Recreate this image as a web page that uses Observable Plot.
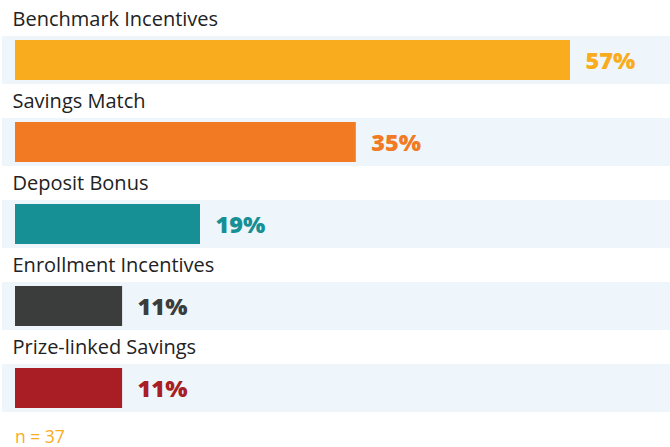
<!DOCTYPE html>
<html>
<head>
<meta charset="utf-8">
<script src="https://cdn.jsdelivr.net/npm/d3@7"></script>
<script src="https://cdn.jsdelivr.net/npm/@observablehq/plot@0.6"></script>
<style>
  html, body { margin: 0; padding: 0; background: #fff; }
  #chart { width: 670px; }
  #caption { font-family: "Open Sans", sans-serif; font-size: 17.5px; color: #f8ac1e; margin: 4px 0 0 15px; line-height: 20px; }
</style>
</head>
<body>
<div id="chart"></div>
<div id="caption">n = 37</div>
<script>
const categories = ["Benchmark Incentives", "Savings Match", "Deposit Bonus", "Enrollment Incentives", "Prize-linked Savings"];
const values = [57, 35, 19, 11, 11];
const colors = ["#f8ac1e", "#f17a22", "#168f95", "#3b3d3d", "#a81e24"];
const sampleSize = 37;

const data = categories.map((c, i) => ({category: c, value: values[i], color: colors[i], label: values[i] + "%"}));
const xMax = 57 * 655 / 555;

const chart = Plot.plot({
  width: 670,
  height: 422,
  marginLeft: 15,
  marginRight: 0,
  marginTop: 36,
  marginBottom: 10,
  x: {domain: [0, xMax], axis: null},
  y: {domain: categories, axis: null, paddingInner: 0.415, paddingOuter: 0},
  style: {fontFamily: "'Open Sans', sans-serif"},
  marks: [
    Plot.barX(data, {y: "category", x1: 0, x2: xMax, insetLeft: -13, fill: "#eef6fc"}),
    Plot.barX(data, {y: "category", x1: 0, x2: "value", fill: "color", insetTop: 4, insetBottom: 4}),
    Plot.text(data, {y: "category", x: 0, text: "category", textAnchor: "start", lineAnchor: "middle", dx: -3, dy: -41, fontSize: 20, fill: "#222"}),
    Plot.text(data, {y: "category", x: "value", text: "label", textAnchor: "start", lineAnchor: "middle", dx: 15, dy: 1, fontSize: 23.5, fontWeight: 800, fill: "color"})
  ]
});
document.getElementById("chart").appendChild(chart);
document.getElementById("caption").textContent = "n = " + sampleSize;
</script>
</body>
</html>
